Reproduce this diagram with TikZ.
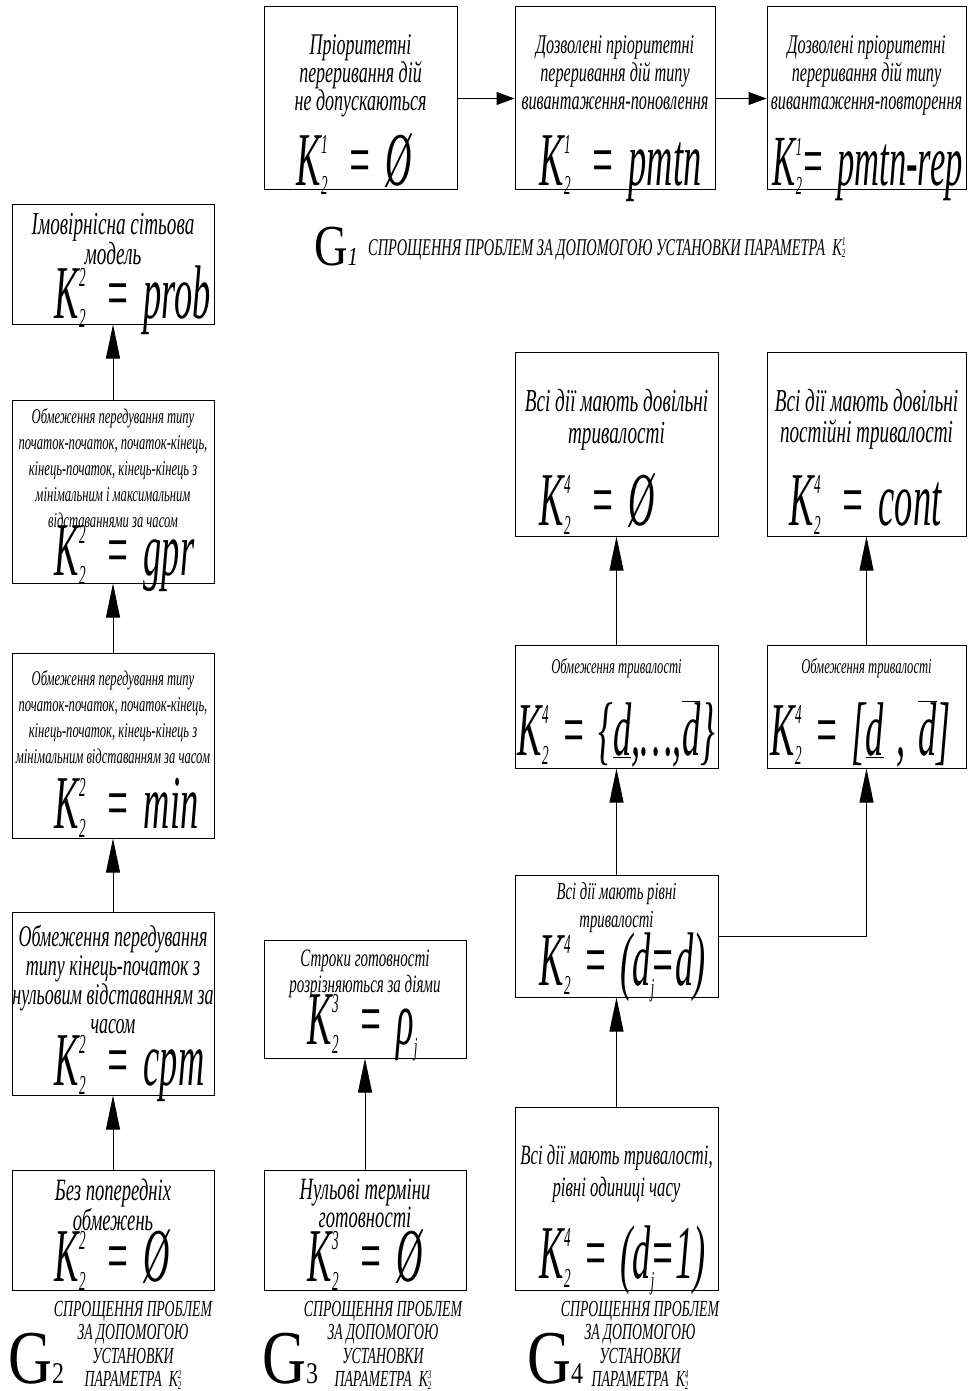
\documentclass[tikz,border=0pt]{standalone}
\usepackage{fontspec}
\setmainfont{Liberation Serif}
\newfontfamily\dscf[FakeStretch=0.6]{Liberation Serif}
\newfontfamily\fmlf[FakeStretch=0.48]{Liberation Serif}
\newfontfamily\gfnt[FakeStretch=0.8]{Liberation Serif}
\usetikzlibrary{positioning,arrows.meta}
\newcommand\Kx[1]{K\rlap{\raisebox{0.42em}{\scalebox{0.36}{#1}}}\raisebox{-0.12em}{\scalebox{0.36}{2}}}
\newcommand\Ks[1]{K\rlap{\raisebox{0.38em}{\scalebox{0.5}{#1}}}\raisebox{-0.12em}{\scalebox{0.5}{2}}}
\newcommand\Kf[2]{\Kx{#1}\hspace{0.26em}=\hspace{0.18em}#2}
\newcommand\sbj{\rlap{\raisebox{-0.14em}{\scalebox{0.34}{j}}}}
\newcommand\ovl[1]{$\overline{\hbox{#1}}$}
\tikzset{
  blk/.style={draw, line width=1pt, inner sep=0pt, minimum width=202pt},
  dsc/.style={inner sep=0pt, align=center, font=\dscf\itshape\fontsize{30}{28}\selectfont},
  dsm/.style={inner sep=0pt, align=center, font=\dscf\itshape\fontsize{21}{26}\selectfont},
  fml/.style={inner sep=0pt, font=\fmlf\itshape\fontsize{76}{76}\selectfont},
  flowarrow/.style={-{Triangle[length=34pt,width=14pt]}, line width=1pt},
  sidearrow/.style={-{Triangle[length=18pt,width=13pt]}, line width=1pt},
  gbig/.style={inner sep=0pt, anchor=base west, font=\gfnt\fontsize{76}{76}\selectfont},
  gcap/.style={inner sep=0pt, align=center, font=\dscf\itshape\fontsize{23}{23.5}\selectfont}
}
\begin{document}
\begin{tikzpicture}[x=1pt, y=-1pt]
  \useasboundingbox (0,0) rectangle (967,1391);
  % G1
  \node[blk, minimum width=193pt, minimum height=183pt] (p1none) at (360.5,98.5) {};
  \node[blk, minimum width=200pt, minimum height=183pt] (p1pmtn) at (615,98.5) {};
  \node[blk, minimum width=199pt, minimum height=183pt] (p1rep) at (866.5,98.5) {};
  \node[dsc, font=\dscf\itshape\fontsize{30}{28}\selectfont, below=28pt of p1none.north] (p1nonet) {Пріоритетні\\переривання дій\\не допускаються};
  \node[dsc, font=\dscf\itshape\fontsize{27}{28}\selectfont, below=29pt of p1pmtn.north] (p1pmtnt) {Дозволені пріоритетні\\переривання дій типу\\вивантаження-поновлення};
  \node[dsc, font=\dscf\itshape\fontsize{27}{28}\selectfont, below=29pt of p1rep.north] (p1rept) {Дозволені пріоритетні\\переривання дій типу\\вивантаження-повторення};
  \node[fml, above right=5pt and 33pt of p1none.south west, anchor=base west] (p1nonek) {\Kf{1}{Ø}};
  \node[fml, above right=5pt and 25pt of p1pmtn.south west, anchor=base west] (p1pmtnk) {\Kf{1}{pmtn}};
  \node[fml, font=\fmlf\itshape\fontsize{72}{72}\selectfont, above right=5pt and 6pt of p1rep.south west, anchor=base west] (p1repk) {\Kx{1}=\,pmtn-rep};
  \draw[sidearrow] (p1none) -- (p1pmtn);
  \draw[sidearrow] (p1pmtn) -- (p1rep);
  \node[gbig, font=\gfnt\fontsize{58}{58}\selectfont] (g1) at (314,265) {G\fontsize{26}{26}\selectfont\itshape 1};
  \node[gcap, font=\dscf\itshape\fontsize{24}{20}\selectfont, anchor=base west] (g1t) at (368,255) {СПРОЩЕННЯ ПРОБЛЕМ ЗА ДОПОМОГОЮ УСТАНОВКИ ПАРАМЕТРА \ \Ks{1}};
  % G2
  \node[blk, minimum height=120pt] (p2prob) at (113,264) {};
  \node[blk, minimum height=183pt] (p2gpr) at (113,491.5) {};
  \node[blk, minimum height=185pt] (p2min) at (113,745.5) {};
  \node[blk, minimum height=183pt] (p2cpm) at (113,1003.5) {};
  \node[blk, minimum height=120pt] (p2none) at (113,1230) {};
  \node[dsc, font=\dscf\itshape\fontsize{32}{28}\selectfont, below=10pt of p2prob.north] (p2probt) {Імовірнісна сітьова\\модель};
  \node[dsm, below=9pt of p2gpr.north] (p2gprt) {Обмеження передування типу\\початок-початок, початок-кінець,\\кінець-початок, кінець-кінець з\\мінімальним і максимальним\\відставаннями за часом};
  \node[dsm, below=18pt of p2min.north] (p2mint) {Обмеження передування типу\\початок-початок, початок-кінець,\\кінець-початок, кінець-кінець з\\мінімальним відставанням за часом};
  \node[dsc, font=\dscf\itshape\fontsize{30}{29}\selectfont, below=13pt of p2cpm.north] (p2cpmt) {Обмеження передування\\типу кінець-початок з\\нульовим відставанням за\\часом};
  \node[dsc, font=\dscf\itshape\fontsize{31}{28}\selectfont, below=9pt of p2none.north] (p2nonet) {Без попередніх\\обмежень};
  \node[fml, above right=6pt and 43pt of p2prob.south west, anchor=base west] (p2probk) {\Kf{2}{prob}};
  \node[fml, above right=8pt and 43pt of p2gpr.south west, anchor=base west] (p2gprk) {\Kf{2}{gpr}};
  \node[fml, above right=10pt and 43pt of p2min.south west, anchor=base west] (p2mink) {\Kf{2}{min}};
  \node[fml, above right=10pt and 43pt of p2cpm.south west, anchor=base west] (p2cpmk) {\Kf{2}{cpm}};
  \node[fml, above right=9pt and 43pt of p2none.south west, anchor=base west] (p2nonek) {\Kf{2}{Ø}};
  \draw[flowarrow] (p2none) -- (p2cpm);
  \draw[flowarrow] (p2cpm) -- (p2min);
  \draw[flowarrow] (p2min) -- (p2gpr);
  \draw[flowarrow] (p2gpr) -- (p2prob);
  \node[gbig] (g2) at (8,1383) {G\fontsize{30}{30}\selectfont 2};
  \node[gcap, anchor=north] (g2t) at (133,1301) {СПРОЩЕННЯ ПРОБЛЕМ\\ЗА ДОПОМОГОЮ\\УСТАНОВКИ\\ПАРАМЕТРА \ \Ks{2}};
  % G3
  \node[blk, minimum height=118pt] (p3rho) at (365,999) {};
  \node[blk, minimum height=120pt] (p3none) at (365,1230) {};
  \node[dsm, font=\dscf\itshape\fontsize{25}{26}\selectfont, below=10pt of p3rho.north] (p3rhot) {Строки готовності\\розрізняються за діями};
  \node[dsc, font=\dscf\itshape\fontsize{31}{28}\selectfont, below=9pt of p3none.north] (p3nonet) {Нульові терміни\\готовності};
  \node[fml, above right=14pt and 44pt of p3rho.south west, anchor=base west] (p3rhok) {\Kf{3}{ρ\sbj}};
  \node[fml, above right=9pt and 44pt of p3none.south west, anchor=base west] (p3nonek) {\Kf{3}{Ø}};
  \draw[flowarrow] (p3none) -- (p3rho);
  \node[gbig] (g3) at (262,1383) {G\fontsize{30}{30}\selectfont 3};
  \node[gcap, anchor=north] (g3t) at (383,1301) {СПРОЩЕННЯ ПРОБЛЕМ\\ЗА ДОПОМОГОЮ\\УСТАНОВКИ\\ПАРАМЕТРА \ \Ks{3}};
  % G4
  \node[blk, minimum width=203pt, minimum height=184pt] (p4any) at (616.5,444) {};
  \node[blk, minimum width=199pt, minimum height=184pt] (p4cont) at (866.5,444) {};
  \node[blk, minimum width=203pt, minimum height=123pt] (p4set) at (616.5,706.5) {};
  \node[blk, minimum width=199pt, minimum height=123pt] (p4intv) at (866.5,706.5) {};
  \node[blk, minimum width=203pt, minimum height=122pt] (p4eq) at (616.5,936) {};
  \node[blk, minimum width=203pt, minimum height=183pt] (p4one) at (616.5,1198.5) {};
  \node[dsc, font=\dscf\itshape\fontsize{32}{32}\selectfont, below=38pt of p4any.north] (p4anyt) {Всі дії мають довільні\\тривалості};
  \node[dsc, font=\dscf\itshape\fontsize{32}{31}\selectfont, below=38pt of p4cont.north] (p4contt) {Всі дії мають довільні\\постійні тривалості};
  \node[dsm, below=14pt of p4set.north] (p4sett) {Обмеження тривалості};
  \node[dsm, below=14pt of p4intv.north] (p4intvt) {Обмеження тривалості};
  \node[dsm, font=\dscf\itshape\fontsize{24.5}{28}\selectfont, below=8pt of p4eq.north] (p4eqt) {Всі дії мають рівні\\тривалості};
  \node[dsc, font=\dscf\itshape\fontsize{28}{32}\selectfont, below=38pt of p4one.north] (p4onet) {Всі дії мають тривалості,\\рівні одиниці часу};
  \node[fml, above right=11pt and 25pt of p4any.south west, anchor=base west] (p4anyk) {\Kf{4}{Ø}};
  \node[fml, above right=11pt and 23pt of p4cont.south west, anchor=base west] (p4contk) {\Kf{4}{cont}};
  \node[fml, above right=13pt and 3pt of p4set.south west, anchor=base west] (p4setk) {\Kx{4}\,=\,\{\underline{d},\ldots,\ovl{d}\}};
  \node[fml, above right=13pt and 4pt of p4intv.south west, anchor=base west] (p4intvk) {\Kx{4}\,=\,[\underline{d}\,,\,\ovl{d}]};
  \node[fml, above right=12pt and 25pt of p4eq.south west, anchor=base west] (p4eqk) {\Kx{4}\,=\,(d\sbj=d)};
  \node[fml, above right=12pt and 25pt of p4one.south west, anchor=base west] (p4onek) {\Kx{4}\,=\,(d\sbj=1)};
  \draw[flowarrow] (p4one) -- (p4eq);
  \draw[flowarrow] (p4eq) -- (p4set);
  \draw[flowarrow] (p4eq.east) -| (p4intv.south);
  \draw[flowarrow] (p4set) -- (p4any);
  \draw[flowarrow] (p4intv) -- (p4cont);
  \node[gbig] (g4) at (527,1383) {G\fontsize{30}{30}\selectfont 4};
  \node[gcap, anchor=north] (g4t) at (640,1301) {СПРОЩЕННЯ ПРОБЛЕМ\\ЗА ДОПОМОГОЮ\\УСТАНОВКИ\\ПАРАМЕТРА \ \Ks{4}};
\end{tikzpicture}
\end{document}
